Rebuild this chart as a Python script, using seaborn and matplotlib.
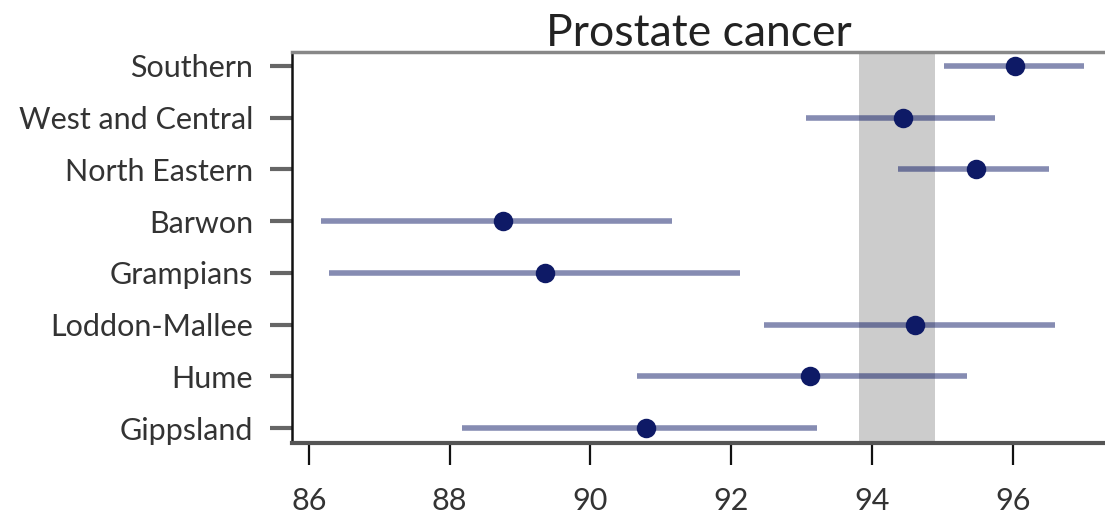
import numpy as np
import pandas as pd
import seaborn as sns
import matplotlib
matplotlib.use('Agg')
import matplotlib.pyplot as plt

# Data
regions = ['Southern', 'West and Central', 'North Eastern', 'Barwon',
           'Grampians', 'Loddon-Mallee', 'Hume', 'Gippsland']
estimate = [96.03, 94.44, 95.48, 88.76, 89.36, 94.61, 93.12, 90.79]
ci_low = [95.02, 93.06, 94.37, 86.17, 86.29, 92.46, 90.66, 88.17]
ci_high = [97.01, 95.75, 96.51, 91.16, 92.13, 96.60, 95.35, 93.22]
band = [93.81, 94.89]
xticks = [86, 88, 90, 92, 94, 96]

df = pd.DataFrame({'region': regions, 'value': estimate,
                   'lo': ci_low, 'hi': ci_high})

sns.set_style('white')
plt.rcParams['font.family'] = ['Lato', 'DejaVu Sans']

fig = plt.figure(figsize=(11.05, 5.17), dpi=100)
ax = fig.add_axes([0.2643, 0.1431, 0.7357, 0.7563])

navy = '#0e1a66'

# Shaded reference band
ax.axvspan(band[0], band[1], color='#cccccc', zorder=0, lw=0)

# Points via seaborn (categorical y axis, first category on top)
sns.pointplot(data=df, x='value', y='region', order=regions,
              linestyle='none', errorbar=None, color=navy,
              markersize=12, ax=ax, zorder=4)

# Confidence intervals
ax.hlines(y=np.arange(len(regions)), xmin=df['lo'], xmax=df['hi'],
          color=navy, alpha=0.5, lw=4, zorder=3)

ax.set_xlim(85.76, 97.31)
ax.set_ylim(7.29, -0.27)
ax.set_xticks(xticks)
ax.set_xticklabels([str(t) for t in xticks])
ax.set_xlabel('')
ax.set_ylabel('')

ax.tick_params(axis='x', length=16, width=1.6, color='#111111',
               labelsize=22, labelcolor='#333333', pad=16, bottom=True)
ax.tick_params(axis='y', length=16, width=3, color='#666666',
               labelsize=22, labelcolor='#333333', pad=12, left=True)

ax.spines['left'].set_color('#111111')
ax.spines['left'].set_linewidth(1.8)
ax.spines['bottom'].set_color('#555555')
ax.spines['bottom'].set_linewidth(3)
ax.spines['top'].set_color('#888888')
ax.spines['top'].set_linewidth(2.5)
ax.spines['right'].set_visible(False)

ax.set_title('Prostate cancer', fontsize=32, color='#222222', pad=4)

fig.savefig('out.png', dpi=100)
